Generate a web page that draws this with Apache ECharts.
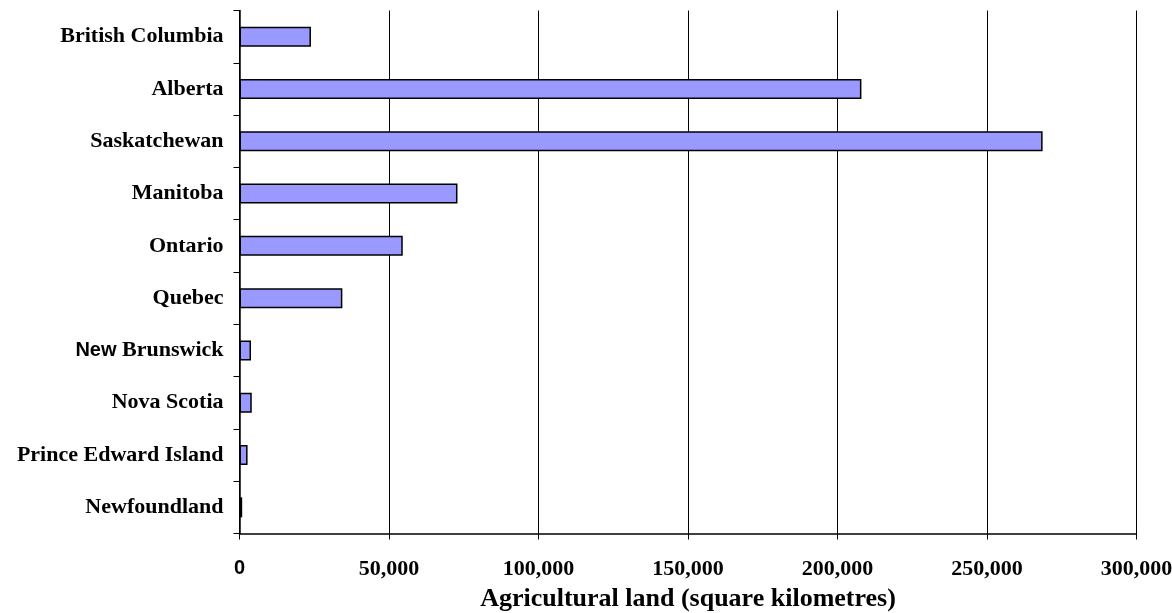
<!DOCTYPE html>
<html>
<head>
<meta charset="utf-8">
<script src="https://cdn.jsdelivr.net/npm/echarts@6/dist/echarts.min.js"></script>
<style>
  html, body { margin: 0; padding: 0; background: #fff; }
  #chart { width: 1172px; height: 613px; }
</style>
</head>
<body>
<div id="chart"></div>
<script>
// provinces, bottom to top
var provinces = ['Newfoundland', 'Prince Edward Island', 'Nova Scotia', 'New Brunswick',
  'Quebec', 'Ontario', 'Manitoba', 'Saskatchewan', 'Alberta', 'British Columbia'];
// agricultural land, square kilometres
var landArea = [900, 2700, 4100, 3850, 34400, 54600, 72900, 268600, 208000, 23900];
var xTicks = [0, 50000, 100000, 150000, 200000, 250000, 300000];

var serif = '"Liberation Serif", "Times New Roman", serif';
var sans = '"Liberation Sans", Arial, sans-serif';

var chart = echarts.init(document.getElementById('chart'));
var option = {
  animation: false,
  backgroundColor: '#fff',
  grid: {
    left: 239.5, right: 35.5, top: 10.5, bottom: 79.5,
    containLabel: false,
    outerBoundsMode: 'none'
  },
  xAxis: {
    type: 'value',
    min: xTicks[0],
    max: xTicks[xTicks.length - 1],
    interval: 50000,
    name: 'Agricultural land (square kilometres)',
    nameLocation: 'middle',
    nameGap: 53,
    nameTextStyle: { fontFamily: serif, fontWeight: 'bold', fontSize: 26, color: '#000' },
    axisLine: { show: true, lineStyle: { color: '#000', width: 1.5 } },
    axisTick: { show: true, length: 6, lineStyle: { color: '#000' } },
    axisLabel: {
      margin: 25,
      color: '#000',
      fontFamily: serif,
      fontWeight: 'bold',
      fontSize: 22,
      formatter: function (v) {
        if (v === 0) return '{s|0}';
        return v.toLocaleString('en-US');
      },
      rich: { s: { fontFamily: sans, fontWeight: 'bold', fontSize: 20, color: '#000' } }
    },
    splitLine: { show: true, lineStyle: { color: '#000', width: 1 } }
  },
  yAxis: {
    type: 'category',
    data: provinces,
    axisLine: { show: true, lineStyle: { color: '#000', width: 1.5 } },
    axisTick: { show: true, length: 6, lineStyle: { color: '#000' } },
    axisLabel: {
      margin: 16,
      color: '#000',
      fontFamily: serif,
      fontWeight: 'bold',
      fontSize: 22,
      formatter: function (v) {
        if (v === 'New Brunswick') return '{s|New} Brunswick';
        return v;
      },
      rich: { s: { fontFamily: sans, fontWeight: 'bold', fontSize: 20, color: '#000' } }
    },
    splitLine: { show: false }
  },
  series: [{
    type: 'bar',
    data: landArea,
    barWidth: 20,
    itemStyle: { color: '#9999ff', borderColor: '#000', borderWidth: 1.5 }
  }]
};
chart.setOption(option);
</script>
</body>
</html>
